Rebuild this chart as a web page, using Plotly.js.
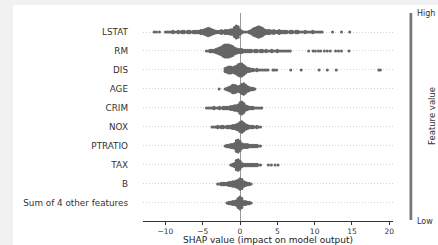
<!DOCTYPE html>
<html>
<head>
<meta charset="utf-8">
<script src="https://cdn.plot.ly/plotly-3.0.1.min.js"></script>
<style>
html,body{margin:0;padding:0;background:#f1f1f1;width:438px;height:245px;overflow:hidden;}
#chart{position:absolute;left:13px;top:5px;width:425px;height:240px;background:#fff;}
</style>
</head>
<body>
<div id="chart"></div>
<script>
// Feature rows (top to bottom)
const features = ["LSTAT","RM","DIS","AGE","CRIM","NOX","PTRATIO","TAX","B","Sum of 4 other features"];
const xTickVals = [-10,-5,0,5,10,15,20];
const binWidth = 0.25; // SHAP value bin width used for the counts below

// Per-feature binned SHAP values: first bin centre, counts per bin, and isolated points
const lstatStart = -10.0;
const lstatCounts = [1,1,1,1,2,1,1,2,1,2,2,1,2,2,1,2,2,2,
  2,3,3,4,5,6,5,4,3,2,
  2,2,3,2,3,3,3,4,
  4,7,9,8,4,
  2,1,1,1,2,
  3,5,6,7,8,7,6,4,3,
  3,3,2,3,2,2,3,2,2,2,2,1,2,2,1,2,2,1,
  1,1,2,1,1,1,2,1,1,1,1,1];
const lstatOutliers = [-11.5,-11.2,-10.8,12.4,13.6,14.7];

const rmStart = -4.5;
const rmCounts = [1,1,2,2,2,3,
  4,5,6,8,9,9,9,8,7,5,4,
  3,3,3,2,
  2,2,2,2,1,2,2,1,2,2,1,2,1,1,2,1,1,2,1,1,1,1,1,1,1];
const rmOutliers = [9.2,9.8,10.1,10.5,10.8,11.3,11.7,12.1,12.8,13.2,13.6,14.6];

const disStart = -2.0;
const disCounts = [3,4,5,5,4, 5,6,8,9,9,7,5, 3,3,2,2, 1,2,1,1,1,1,1,1];
const disOutliers = [4.4,4.6,4.9,6.8,8.2,10.6,11.7,12.9,18.6,18.8];

const ageStart = -2.0;
const ageCounts = [1,2,3,4,6,6,5,4,5,7,8,6,4,3,2,2,1];
const ageOutliers = [-2.8];

const crimStart = -4.5;
const crimCounts = [1,1,1,1,2,1,1,2,1,2,2,2, 2,3,3,4,4,5, 8,9,7, 4,3,2,2,2,1, 1,1,1];
const crimOutliers = [2.9];

const noxStart = -3.75;
const noxCounts = [1,1,1,2,1,2,2,1,2,2,2, 3,3,4,5, 7,8,6, 4,3,2,2,2,1,2,1,1];
const noxOutliers = [];

const ptratioStart = -2.0;
const ptratioCounts = [1,2,2,3,3,4, 8,9,7, 4,3,3,3,2,2,2,2,2,1,1];
const ptratioOutliers = [];

const taxStart = -1.25;
const taxCounts = [1,2,3, 7,8,6, 3,2,2,2,2,2,2,2,2,1,1];
const taxOutliers = [3.8,4.2,4.7,5.1];

const bStart = -3.0;
const bCounts = [1,1,2,2,2,2,3,3, 4,4,5,6, 8,7, 4,3,2,2,1];
const bOutliers = [];

const sumStart = -1.75;
const sumCounts = [1,2,2,3,3,4, 7,9,7, 3,3,2,2,1];
const sumOutliers = [];

const starts = [lstatStart,rmStart,disStart,ageStart,crimStart,noxStart,ptratioStart,taxStart,bStart,sumStart];
const counts = [lstatCounts,rmCounts,disCounts,ageCounts,crimCounts,noxCounts,ptratioCounts,taxCounts,bCounts,sumCounts];
const outliers = [lstatOutliers,rmOutliers,disOutliers,ageOutliers,crimOutliers,noxOutliers,ptratioOutliers,taxOutliers,bOutliers,sumOutliers];

// Build beeswarm points (vertical stacking of samples within each bin)
const dy = 0.08;
const xs = [], ys = [];
features.forEach((f, row) => {
  counts[row].forEach((n, i) => {
    const xv = starts[row] + i * binWidth;
    for (let j = 0; j < n; j++) {
      xs.push(xv);
      ys.push(row + (j - (n - 1) / 2) * dy);
    }
  });
  outliers[row].forEach(v => { xs.push(v); ys.push(row); });
});

const font = "DejaVu Sans, sans-serif";
const data = [{
  type: "scatter", mode: "markers", x: xs, y: ys,
  marker: {size: 3, color: "#666666", line: {width: 0}},
  hoverinfo: "skip", cliponaxis: false
}];

const layout = {
  width: 425, height: 240,
  margin: {l: 130, r: 45, t: 8, b: 24},
  paper_bgcolor: "#ffffff", plot_bgcolor: "#ffffff",
  showlegend: false,
  font: {family: font, color: "#222"},
  xaxis: {
    range: [-13.0, 20.5], tickvals: xTickVals,
    showgrid: false, zeroline: true, zerolinecolor: "#999", zerolinewidth: 1,
    showline: true, linecolor: "#333", linewidth: 1,
    ticks: "outside", ticklen: 3, tickcolor: "#333", tickwidth: 1,
    tickfont: {size: 7.5, color: "#333", family: font},
    title: {text: "SHAP value (impact on model output)", font: {size: 9, color: "#222", family: font}, standoff: 3}
  },
  yaxis: {
    range: [9.95, -1], tickvals: features.map((f, i) => i), ticktext: features,
    showgrid: true, griddash: "1px,2px", gridcolor: "#d4d4d4", gridwidth: 1,
    zeroline: false, showline: false, ticks: "", ticklabelstandoff: 14,
    tickfont: {size: 8.8, color: "#333", family: font}
  },
  shapes: [{
    type: "rect", xref: "paper", yref: "paper",
    x0: 1.066, x1: 1.077, y0: 0.005, y1: 1.0,
    fillcolor: "#777", line: {width: 0}
  }],
  annotations: [
    {text: "High", xref: "paper", yref: "paper", x: 1.088, y: 1.0, xanchor: "left", yanchor: "middle", showarrow: false, font: {size: 8, color: "#333", family: font}},
    {text: "Low", xref: "paper", yref: "paper", x: 1.088, y: -0.003, xanchor: "left", yanchor: "middle", showarrow: false, font: {size: 8, color: "#333", family: font}},
    {text: "Feature value", xref: "paper", yref: "paper", x: 1.156, y: 0.505, xanchor: "center", yanchor: "middle", textangle: -90, showarrow: false, font: {size: 8.5, color: "#333", family: font}}
  ]
};

Plotly.newPlot("chart", data, layout, {displayModeBar: false, staticPlot: true});
</script>
</body>
</html>
